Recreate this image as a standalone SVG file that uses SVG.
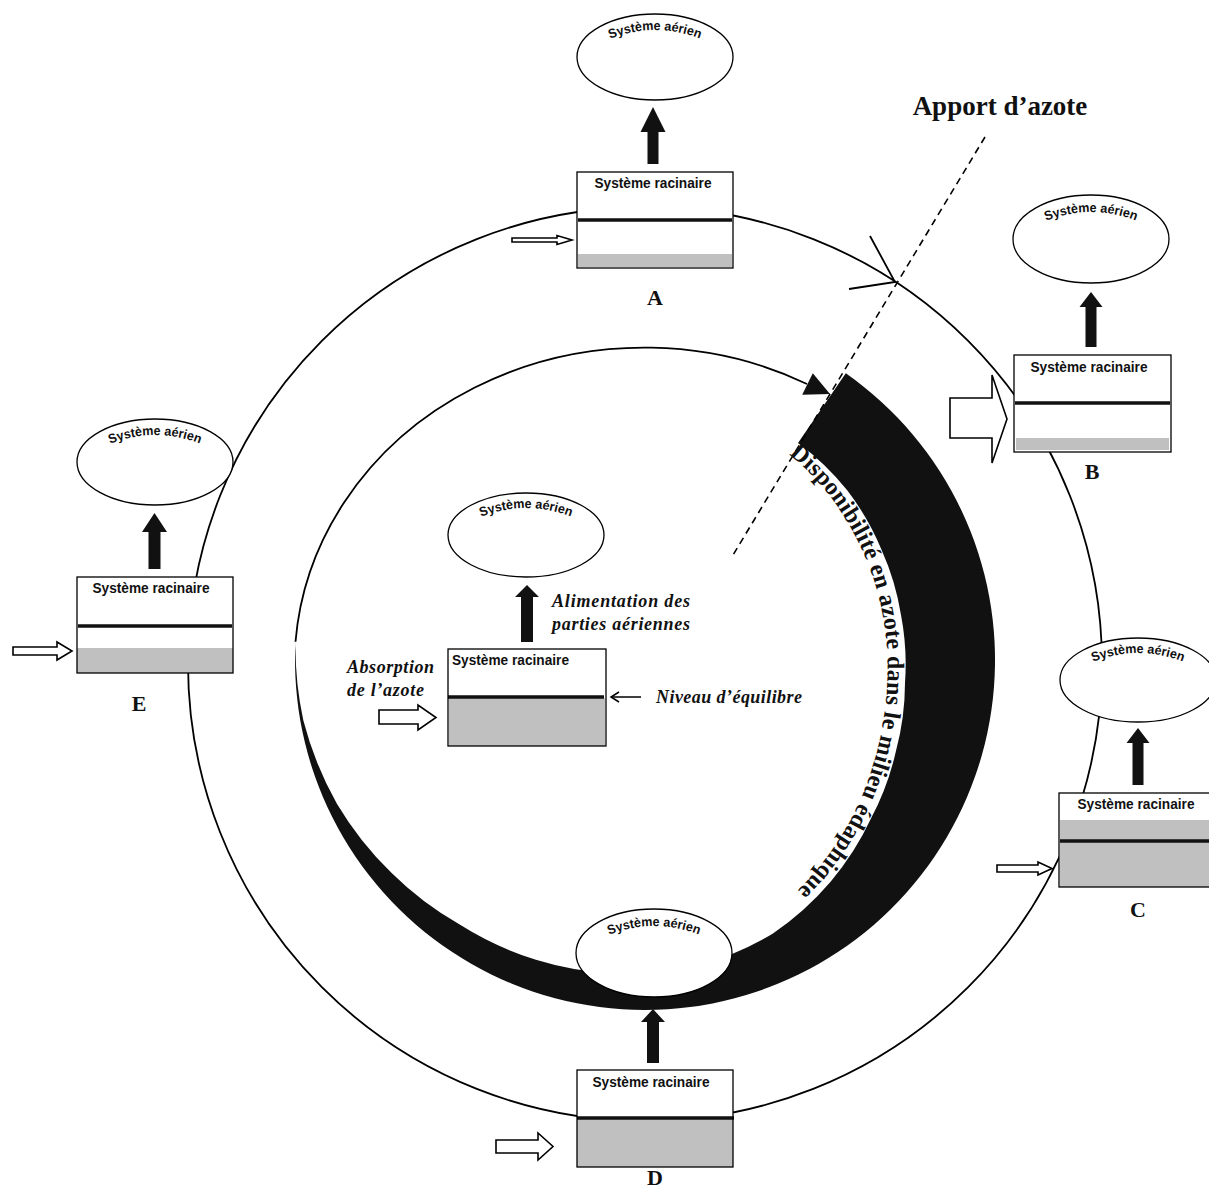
<svg xmlns="http://www.w3.org/2000/svg" width="1209" height="1194" viewBox="0 0 1209 1194">
<style>
.ell{fill:#fff;stroke:#000;stroke-width:1.3}
.bf{fill:#fff}
.bs{fill:none;stroke:#000;stroke-width:1.3}
.grey{fill:#c0c0c0}
.lvl{stroke:#111;stroke-width:3.5}
.blk{fill:#111}
.hol{fill:#fff;stroke:#000;stroke-width:1.6}
.rac{font-family:"Liberation Sans",Arial,sans-serif;font-weight:bold;font-size:15px;fill:#111}
.aer{font-family:"Liberation Sans",Arial,sans-serif;font-weight:bold;font-size:13px;fill:#111}
.lbl{font-family:"Liberation Serif","Times New Roman",serif;font-weight:bold;font-size:22px;fill:#111;text-anchor:middle}
.it{font-family:"Liberation Serif","Times New Roman",serif;font-weight:bold;font-style:italic;font-size:18px;fill:#111}
.ln{fill:none;stroke:#000;stroke-width:1.8}
</style>
<defs>
<path id="pA" d="M607,40 Q655,20 703,40"/>
<path id="pB" d="M1043,222 Q1091,202 1139,222"/>
<path id="pC" d="M1090,663 Q1138,643 1186,663"/>
<path id="pD" d="M606,936 Q654,916 702,936"/>
<path id="pE" d="M107,445 Q155,425 203,445"/>
<path id="pM" d="M478,518 Q526,498 574,518"/>
<path id="pBand" d="M789,454.4 A249 249 0 0 1 820.4,484.6 A246 246 0 0 1 845.7,519.5 A244 244 0 0 1 865.2,557.3 A242 242 0 0 1 878.7,597.4 A242 242 0 0 1 886.1,638.9 A242 242 0 0 1 887.1,681.2 A244 244 0 0 1 882.6,723.7 A248 248 0 0 1 872.5,766.1 A254 254 0 0 1 856.4,808 A262 262 0 0 1 833.1,848.1 A270 270 0 0 1 802.7,885.3 A280 280 0 0 1 765,917.4"/>
</defs>

<g id="connectors">
  <circle class="ln" cx="645" cy="664" r="457"/>
  <polyline class="ln" points="870,236 895,282 849,289"/>
  <path class="ln" d="M295.5,641.7 A350 318 0 0 1 807,384"/>
  <polygon class="blk" points="830,394 812.8,373.3 802.2,394.8"/>
  <path class="blk" d="M845.8,373.3 A350 350 0 1 1 295.5,641.7 A347 347 0 0 0 303.3,720.2 A343 343 0 0 0 336.9,803.7 A335 335 0 0 0 391.4,872.8 A327 327 0 0 0 459.7,924.6 A321 321 0 0 0 535.9,959.8 A317 317 0 0 0 617.5,973.8 A312 312 0 0 0 698.8,965.3 A306 306 0 0 0 772.6,933.7 A295 295 0 0 0 830.8,881.4 A282 282 0 0 0 871.1,818.3 A271 271 0 0 0 895.9,751.3 A264 264 0 0 0 905,682.8 A260 260 0 0 0 901,614.9 A260 260 0 0 0 881.5,549.7 A262 262 0 0 0 847.2,490.3 A265 265 0 0 0 798,443 Z"/>
  <line x1="985" y1="137" x2="733" y2="555" stroke="#000" stroke-width="1.6" stroke-dasharray="7 5"/>
</g>

<g id="band-label">
  <text font-family="'Liberation Serif','Times New Roman',serif" font-weight="bold" font-size="24" fill="#111"><textPath href="#pBand" textLength="490" lengthAdjust="spacing">Disponibilité en azote dans le milieu édaphique</textPath></text>
</g>

<g id="apport">
  <text class="lbl" x="1000" y="115" style="font-size:27px">Apport d’azote</text>
</g>

<g id="node-A">
  <ellipse class="ell" cx="655" cy="57" rx="78" ry="43"/>
  <text class="aer"><textPath href="#pA" startOffset="50%" text-anchor="middle" textLength="92" lengthAdjust="spacingAndGlyphs">Système aérien</textPath></text>
  <path class="blk" d="M647.5,164 V132 H640.5 L653,107 L665.5,132 H658.5 V164 Z"/>
  <rect class="bf" x="577" y="172" width="156" height="96"/>
  <rect class="grey" x="578" y="254" width="154" height="13"/>
  <line class="lvl" x1="578" y1="220" x2="732" y2="220"/>
  <rect class="bs" x="577" y="172" width="156" height="96"/>
  <text class="rac" x="653" y="188" text-anchor="middle" textLength="117" lengthAdjust="spacingAndGlyphs">Système racinaire</text>
  <path class="hol" d="M512,238 H557 V235.5 L572,240 L557,244.5 V242 H512 Z"/>
  <text class="lbl" x="655" y="305">A</text>
</g>

<g id="node-B">
  <ellipse class="ell" cx="1091" cy="239" rx="78" ry="44"/>
  <text class="aer"><textPath href="#pB" startOffset="50%" text-anchor="middle" textLength="92" lengthAdjust="spacingAndGlyphs">Système aérien</textPath></text>
  <path class="blk" d="M1085.5,347 V307 H1079.5 L1091,292 L1102.5,307 H1096.5 V347 Z"/>
  <rect class="bf" x="1014" y="355" width="157" height="97"/>
  <rect class="grey" x="1016" y="438" width="153" height="12"/>
  <line class="lvl" x1="1015" y1="403" x2="1170" y2="403"/>
  <rect class="bs" x="1014" y="355" width="157" height="97"/>
  <text class="rac" x="1089" y="372" text-anchor="middle" textLength="117" lengthAdjust="spacingAndGlyphs">Système racinaire</text>
  <path class="hol" d="M950,398 H992 V375 L1007,419 L992,463 V438 H950 Z"/>
  <text class="lbl" x="1092" y="479">B</text>
</g>

<g id="node-C">
  <ellipse class="ell" cx="1138" cy="680" rx="78" ry="42"/>
  <text class="aer"><textPath href="#pC" startOffset="50%" text-anchor="middle" textLength="92" lengthAdjust="spacingAndGlyphs">Système aérien</textPath></text>
  <path class="blk" d="M1132.5,785 V743 H1126.5 L1138,728 L1149.5,743 H1143.5 V785 Z"/>
  <rect class="bf" x="1059" y="793" width="156" height="94"/>
  <rect class="grey" x="1060" y="820" width="154" height="67"/>
  <line class="lvl" x1="1060" y1="841" x2="1214" y2="841"/>
  <rect class="bs" x="1059" y="793" width="156" height="94"/>
  <text class="rac" x="1136" y="809" text-anchor="middle" textLength="117" lengthAdjust="spacingAndGlyphs">Système racinaire</text>
  <path class="hol" d="M997,865 H1038 V862 L1052,868.5 L1038,875 V872 H997 Z"/>
  <text class="lbl" x="1138" y="917">C</text>
</g>

<g id="node-D">
  <ellipse class="ell" cx="654" cy="953" rx="78" ry="44"/>
  <text class="aer"><textPath href="#pD" startOffset="50%" text-anchor="middle" textLength="92" lengthAdjust="spacingAndGlyphs">Système aérien</textPath></text>
  <path class="blk" d="M647,1063 V1022 H641 L653,1009 L665,1022 H659 V1063 Z"/>
  <rect class="bf" x="577" y="1070" width="156" height="97"/>
  <rect class="grey" x="577" y="1118" width="156" height="49"/>
  <line class="lvl" x1="577" y1="1118" x2="734" y2="1118"/>
  <rect class="bs" x="577" y="1070" width="156" height="97"/>
  <text class="rac" x="651" y="1087" text-anchor="middle" textLength="117" lengthAdjust="spacingAndGlyphs">Système racinaire</text>
  <path class="hol" d="M496,1140 H538 V1133 L553,1146.5 L538,1160 V1153 H496 Z"/>
  <text class="lbl" x="655" y="1185">D</text>
</g>

<g id="node-E">
  <ellipse class="ell" cx="155" cy="462" rx="78" ry="43"/>
  <text class="aer"><textPath href="#pE" startOffset="50%" text-anchor="middle" textLength="92" lengthAdjust="spacingAndGlyphs">Système aérien</textPath></text>
  <path class="blk" d="M148.5,569 V532 H142 L154.5,513 L167,532 H160.5 V569 Z"/>
  <rect class="bf" x="77" y="577" width="156" height="96"/>
  <rect class="grey" x="77" y="648" width="156" height="25"/>
  <line class="lvl" x1="78" y1="626" x2="232" y2="626"/>
  <rect class="bs" x="77" y="577" width="156" height="96"/>
  <text class="rac" x="151" y="593" text-anchor="middle" textLength="117" lengthAdjust="spacingAndGlyphs">Système racinaire</text>
  <path class="hol" d="M13,647 H57 V642 L72,651 L57,660 V655 H13 Z"/>
  <text class="lbl" x="139" y="711">E</text>
</g>

<g id="node-center">
  <ellipse class="ell" cx="526" cy="535" rx="78" ry="42"/>
  <text class="aer"><textPath href="#pM" startOffset="50%" text-anchor="middle" textLength="92" lengthAdjust="spacingAndGlyphs">Système aérien</textPath></text>
  <path class="blk" d="M521,642 V597 H515 L527,585 L539,597 H533 V642 Z"/>
  <rect class="bf" x="448" y="649" width="158" height="97"/>
  <rect class="grey" x="449" y="698" width="156" height="48"/>
  <line class="lvl" x1="448" y1="697" x2="604" y2="697"/>
  <rect class="bs" x="448" y="649" width="158" height="97"/>
  <text class="rac" x="452" y="665" textLength="117" lengthAdjust="spacingAndGlyphs">Système racinaire</text>
  <path class="hol" d="M379,710 H418 V705 L436,717.5 L418,730 V724 H379 Z"/>
  <polyline fill="none" stroke="#000" stroke-width="1.5" points="619,692 611,697 619,702"/>
  <line x1="611" y1="697" x2="641" y2="697" stroke="#000" stroke-width="1.5"/>
  <text class="it" x="552" y="607" textLength="138" lengthAdjust="spacing">Alimentation des</text>
  <text class="it" x="552" y="630" textLength="138" lengthAdjust="spacing">parties aériennes</text>
  <text class="it" x="347" y="673" textLength="87" lengthAdjust="spacing">Absorption</text>
  <text class="it" x="347" y="696" textLength="77" lengthAdjust="spacing">de l’azote</text>
  <text class="it" x="656" y="703" textLength="146" lengthAdjust="spacing">Niveau d’équilibre</text>
</g>
</svg>
